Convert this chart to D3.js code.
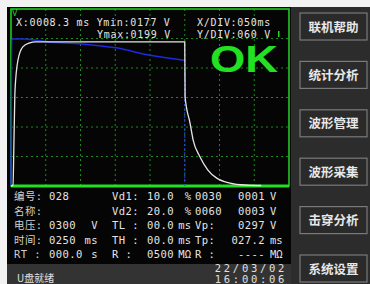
<!DOCTYPE html>
<html>
<head>
<meta charset="utf-8">
<script src="https://cdn.jsdelivr.net/npm/d3@7"></script>
<style>
  body { margin: 0; background: #f2f2f2; }
  svg { display: block; }
  .mono { font-family: "DejaVu Sans Mono", "Noto Sans CJK SC", monospace; }
</style>
</head>
<body>
<div id="screen"></div>
<script>
// scope settings: X/DIV 50 ms, Y/DIV 60 V, 8 x 6 divisions
var xDivs = [0, 50, 100, 150, 200, 250, 300, 350, 400];
var yDivs = [0, 60, 120, 180, 240, 300, 360];

// white trace (test voltage), time in ms, value in V
var whiteT = [0, 2.9, 4.3, 5.8, 10, 17, 27, 35, 250, 250.5, 257.6, 262, 272, 283, 296, 315, 337, 360];
var whiteV = [0, 2, 94, 195, 256, 283, 291, 293, 293, 181, 128, 94, 59, 33, 16, 6, 2, 1];

// blue trace
var blueT = [0, 1, 20, 52, 102, 151, 200, 249];
var blueV = [0, 299, 299, 293, 289, 281, 266, 256];
var cursorT = 250;

var headLine1 = "X:0008.3 ms Ymin:0177 V";
var headLine2 = "Ymax:0199 V";
var divLine1 = "X/DIV:050ms";
var divLine2 = "Y/DIV:060 V";
var verdict = "OK";

// info table below the scope
var infoLabels = ["编号:", "名称:", "电压:", "时间:", "RT :"];
var infoValues = ["028", "", "0300", "0250", "000.0"];
var infoUnits = ["", "", "V", "ms", "s"];
var col2Labels = ["Vd1:", "Vd2:", "TL :", "TH :", "R :"];
var col2Values = ["10.0", "20.0", "00.0", "00.0", "0500"];
var col2Units = ["%", "%", "ms", "ms", "MΩ"];
var col3Labels = ["0030", "0060", "Vp:", "Tp:", "R :"];
var col3Values = ["0001", "0003", "0297", "027.2", "----"];
var col3Units = ["V", "V", "V", "ms", "MΩ"];

var dateText = "22/03/02";
var timeText = "16:00:06";
var statusText = "U盘就绪";

var menuItems = ["联机帮助", "统计分析", "波形管理", "波形采集", "击穿分析", "系统设置"];

var svg = d3.select("#screen").append("svg")
    .attr("width", 370)
    .attr("height", 284);

// backgrounds
svg.append("rect").attr("x", 0).attr("y", 0).attr("width", 370).attr("height", 284).attr("fill", "#f2f2f2");
svg.append("rect").attr("x", 7).attr("y", 7).attr("width", 284).attr("height", 258).attr("fill", "#050505");
svg.append("rect").attr("x", 7).attr("y", 264).attr("width", 284).attr("height", 20).attr("fill", "#333333");
svg.append("rect").attr("x", 291).attr("y", 7).attr("width", 79).attr("height", 277).attr("fill", "#2c2c2c");

// scales
var x = d3.scaleLinear().domain([0, 400]).range([11, 289]);
var y = d3.scaleLinear().domain([0, 360]).range([186, 9]);

// grid
var grid = svg.append("g");
grid.selectAll(".vg").data(xDivs.slice(1, -1)).enter().append("line")
    .attr("x1", function (d) { return x(d); })
    .attr("x2", function (d) { return x(d); })
    .attr("y1", y(360)).attr("y2", y(0))
    .attr("stroke", "#1d8a1d").attr("stroke-dasharray", "2,3");
grid.selectAll(".hg").data(yDivs.slice(1, -1)).enter().append("line")
    .attr("y1", function (d) { return y(d); })
    .attr("y2", function (d) { return y(d); })
    .attr("x1", x(0)).attr("x2", x(400))
    .attr("stroke", "#1d8a1d").attr("stroke-dasharray", "2,3");

// frame
svg.append("rect")
    .attr("x", x(0)).attr("y", y(360))
    .attr("width", x(400) - x(0)).attr("height", y(0) - y(360))
    .attr("fill", "none").attr("stroke", "#22d822").attr("stroke-width", 1.5);
svg.append("line")
    .attr("x1", x(0)).attr("x2", x(400)).attr("y1", y(0)).attr("y2", y(0))
    .attr("stroke", "#22e022").attr("stroke-width", 3);

// traces
var line = d3.line()
    .x(function (d) { return x(d[0]); })
    .y(function (d) { return y(d[1]); })
    .curve(d3.curveMonotoneX);

svg.append("line")
    .attr("x1", x(cursorT)).attr("x2", x(cursorT))
    .attr("y1", y(blueV[blueV.length - 1])).attr("y2", y(0))
    .attr("stroke", "#2a3cff").attr("stroke-dasharray", "2,2");

svg.append("path")
    .datum(d3.zip(blueT, blueV))
    .attr("fill", "none").attr("stroke", "#1c2ae0").attr("stroke-width", 1.5)
    .attr("d", line);

svg.append("path")
    .datum(d3.zip(whiteT, whiteV))
    .attr("fill", "none").attr("stroke", "#e6e6e6").attr("stroke-width", 1.3)
    .attr("d", line);

// scope texts
svg.append("text").attr("x", 12).attr("y", 16).text("V")
    .attr("fill", "#22d822").attr("font-family", "DejaVu Sans").attr("font-size", 8);

function monoText(str, px, py, anchor, size, fill, spacing) {
    return svg.append("text")
        .attr("class", "mono")
        .attr("x", px).attr("y", py)
        .attr("text-anchor", anchor || "start")
        .attr("font-size", size || 10.5)
        .attr("letter-spacing", spacing === undefined ? 0.4 : spacing)
        .attr("fill", fill || "#e4e4e4")
        .attr("xml:space", "preserve")
        .text(str);
}

monoText(headLine1, 16, 26, "start", 10, null, 0.7);
monoText(headLine2, 97, 37.5, "start", 10, null, 0.7);
monoText(divLine1, 197, 26, "start", 10, null, 0.7);
monoText(divLine2, 197, 37.5, "start", 10, null, 0.7);
svg.append("rect").attr("x", 278).attr("y", 31).attr("width", 1.5).attr("height", 6).attr("fill", "#22d822");

svg.append("text")
    .attr("x", 210).attr("y", 72)
    .attr("font-family", "Liberation Sans").attr("font-weight", "bold")
    .attr("font-size", 37)
    .attr("textLength", 68).attr("lengthAdjust", "spacingAndGlyphs")
    .attr("fill", "#22e022")
    .text(verdict);

// info table
var rowY = [200, 215, 229, 244, 258];
rowY.forEach(function (ry, i) {
    monoText(infoLabels[i], 14, ry, "start", 10.5, "#cfcfcf");
    monoText(infoValues[i], 49, ry);
    monoText(infoUnits[i], 98, ry, "end");
    monoText(col2Labels[i], 112, ry);
    monoText(col2Values[i], 147, ry);
    monoText(col2Units[i], 191, ry, "end", 10.5, null, 0);
    monoText(col3Labels[i], 195, ry);
    monoText(col3Values[i], 265, ry, "end");
    monoText(col3Units[i], 270, ry, "start", 10.5, null, 0);
});

svg.append("text").attr("x", 17).attr("y", 282)
    .attr("font-family", "Noto Sans CJK SC").attr("font-size", 10)
    .attr("fill", "#e0e0e0").text(statusText);

monoText(dateText, 287, 272, "end", 10.5, "#e0e0e0", 2.7);
monoText(timeText, 287, 282.5, "end", 10.5, "#e0e0e0", 2.7);

// menu buttons
var btn = svg.selectAll(".btn").data(menuItems).enter().append("g")
    .attr("transform", function (d, i) { return "translate(300," + (13 + i * 48.4) + ")"; });
btn.append("rect")
    .attr("width", 67).attr("height", 27)
    .attr("fill", "#2a2a2a").attr("stroke", "#7a7a7a").attr("stroke-width", 1.2);
btn.append("text")
    .attr("x", 33.5).attr("y", 18.5)
    .attr("text-anchor", "middle")
    .attr("font-family", "Noto Sans CJK SC").attr("font-weight", "bold")
    .attr("font-size", 12.5)
    .attr("fill", "#e8e8e8")
    .text(function (d) { return d; });
</script>
</body>
</html>
